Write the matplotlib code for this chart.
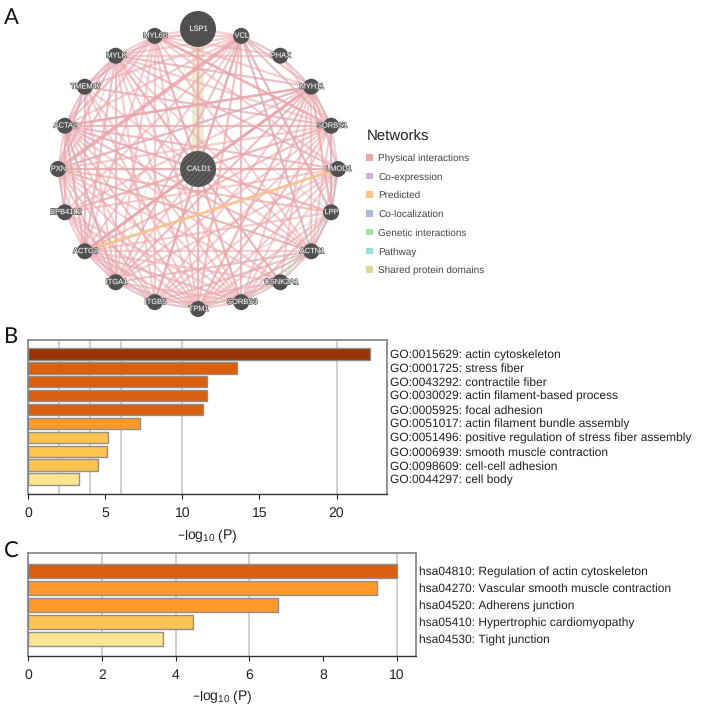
import numpy as np
import matplotlib
matplotlib.use('Agg')
import matplotlib.pyplot as plt
import matplotlib.patheffects as pe
from matplotlib.patches import Circle, Patch

plt.rcParams['font.family'] = ['Liberation Sans', 'DejaVu Sans']
plt.rcParams['mathtext.default'] = 'regular'
plt.rcParams['hatch.linewidth'] = 0.6
plt.rcParams['text.hinting'] = 'no_hinting'
plt.rcParams['text.hinting_factor'] = 1

W, H = 705, 708

# network, clockwise from the top
ring_genes = ['LSP1', 'VCL', 'PHAX', 'MYH11', 'SORBS1', 'LMOD1', 'LPP', 'ACTN1', 'CSNK2A1', 'SORBS3',
              'TPM1', 'ITGB5', 'ITGA1', 'ACTG2', 'EPB41L2', 'PXN', 'ACTA2', 'TMEM47', 'MYLK', 'MYL6B']
big_genes = ['LSP1', 'CALD1']

physical = {
    'VCL': 'MYL6B MYLK ACTA2 PXN ACTG2 ITGA1 ITGB5 TPM1 SORBS3 SORBS1 MYH11 ACTN1 CALD1 LSP1 PHAX LPP TMEM47 EPB41L2',
    'MYL6B': 'LSP1 MYLK ACTA2 PXN ACTG2 ITGB5 TPM1 SORBS3 SORBS1 MYH11 LMOD1 ITGA1 CALD1 TMEM47 ACTN1 PHAX',
    'MYLK': 'ACTA2 PXN ACTG2 ITGA1 TPM1 SORBS3 SORBS1 MYH11 LMOD1 ACTN1 CALD1 TMEM47 CSNK2A1 ITGB5 LSP1 PHAX',
    'ACTA2': 'PXN ACTG2 ITGA1 ITGB5 TPM1 SORBS3 SORBS1 MYH11 LMOD1 ACTN1 CALD1 EPB41L2 LPP TMEM47 CSNK2A1',
    'PXN': 'EPB41L2 ACTG2 ITGA1 ITGB5 TPM1 SORBS3 SORBS1 MYH11 LMOD1 CALD1 ACTN1 TMEM47 LPP CSNK2A1',
    'ACTG2': 'ITGA1 ITGB5 TPM1 SORBS3 SORBS1 MYH11 LMOD1 CALD1 ACTN1 EPB41L2 LPP CSNK2A1 TMEM47',
    'MYH11': 'SORBS1 LMOD1 TPM1 SORBS3 ITGB5 ITGA1 CALD1 PHAX ACTN1 CSNK2A1 EPB41L2 LPP',
    'SORBS1': 'LMOD1 LPP TPM1 SORBS3 ITGA1 ITGB5 ACTN1 CALD1 EPB41L2 PHAX TMEM47',
    'LMOD1': 'TPM1 SORBS3 ITGA1 CALD1 LPP ITGB5 ACTN1 EPB41L2',
    'TPM1': 'ITGB5 ITGA1 SORBS3 CALD1 ACTN1 CSNK2A1 LSP1 EPB41L2 LPP TMEM47',
    'SORBS3': 'ITGB5 ITGA1 CSNK2A1 ACTN1 CALD1 TMEM47 LPP EPB41L2',
    'ITGB5': 'ITGA1 CALD1 EPB41L2 ACTN1 CSNK2A1',
    'ITGA1': 'CALD1 EPB41L2 ACTN1 TMEM47',
    'CALD1': 'LSP1 ACTN1 LPP CSNK2A1 EPB41L2 TMEM47',
    'LPP': 'ACTN1',
    'ACTN1': 'CSNK2A1',
}
coexpression = {
    'MYH11': 'ACTA2 ACTG2 MYLK LMOD1 TPM1 LPP PXN SORBS1 ITGA1',
    'MYLK': 'ACTG2 LPP EPB41L2 PXN TMEM47 ITGA1 LMOD1',
    'ACTA2': 'TMEM47 LMOD1 SORBS1 ITGA1 EPB41L2 ACTN1',
    'LPP': 'ACTN1 SORBS3 ITGB5 VCL LMOD1 SORBS1',
    'ACTG2': 'TMEM47 ITGB5 ITGA1 SORBS3',
    'TMEM47': 'MYL6B SORBS1 PXN',
}
predicted = {
    'ACTG2': 'LMOD1 ACTA2 TPM1',
    'ACTA2': 'TPM1 SORBS1 MYL6B',
    'VCL': 'TPM1 MYH11',
    'MYH11': 'LPP TPM1 SORBS1',
    'PXN': 'LPP ACTN1',
    'SORBS1': 'ACTG2 TPM1',
    'MYLK': 'TMEM47',
}
colocalization = {
    'VCL': 'ACTN1 LPP ITGB5 SORBS3',
    'MYH11': 'ACTG2 PXN SORBS1',
    'LPP': 'ACTN1 SORBS1 LMOD1',
    'ACTA2': 'ITGA1 ACTG2 MYLK',
    'PXN': 'EPB41L2 TMEM47',
}
genetic = {
    'CSNK2A1': 'ACTN1 SORBS3 LPP CALD1 LMOD1 TPM1',
    'LSP1': 'ITGA1',
    'PXN': 'LMOD1 ACTN1',
    'LPP': 'LMOD1',
    'ACTN1': 'TPM1 SORBS3',
}
pathway = {
    'ACTN1': 'VCL ITGA1 ITGB5 PXN LPP TPM1 SORBS3',
    'PHAX': 'MYH11 VCL',
    'ITGA1': 'ITGB5 VCL PXN TPM1',
    'ITGB5': 'PXN VCL TPM1',
    'SORBS1': 'VCL LPP',
    'PXN': 'LMOD1 EPB41L2',
    'LPP': 'CSNK2A1',
}
# thicker links: (a, b, width)
thick_physical = [('VCL', 'PXN', 3.0), ('MYH11', 'ACTG2', 2.2), ('MYL6B', 'SORBS1', 1.8), ('ACTA2', 'MYH11', 1.8)]
thick_predicted = [('ACTG2', 'LMOD1', 2.2)]

network_names = ['Physical interactions', 'Co-expression', 'Predicted', 'Co-localization',
                 'Genetic interactions', 'Pathway', 'Shared protein domains']
network_colors = ['#EBA6AB', '#CDB6DA', '#F9C58C', '#A7B7E0', '#9FE09B', '#9EDCE0', '#DDD79E']

# GO enrichment
go_labels = ['GO:0015629: actin cytoskeleton', 'GO:0001725: stress fiber', 'GO:0043292: contractile fiber',
             'GO:0030029: actin filament-based process', 'GO:0005925: focal adhesion',
             'GO:0051017: actin filament bundle assembly', 'GO:0051496: positive regulation of stress fiber assembly',
             'GO:0006939: smooth muscle contraction', 'GO:0098609: cell-cell adhesion', 'GO:0044297: cell body']
go_values = [22.16, 13.57, 11.6, 11.58, 11.34, 7.26, 5.2, 5.1, 4.56, 3.29]
go_colors = ['#993404', '#D95F0E', '#D95F0E', '#D95F0E', '#D95F0E', '#FE9929', '#FEC44F', '#FEC44F', '#FEC44F', '#FEE391']
go_grid = [2, 4, 6, 10, 20]

# KEGG enrichment
kegg_labels = ['hsa04810: Regulation of actin cytoskeleton', 'hsa04270: Vascular smooth muscle contraction',
               'hsa04520: Adherens junction', 'hsa05410: Hypertrophic cardiomyopathy', 'hsa04530: Tight junction']
kegg_values = [10.0, 9.46, 6.78, 4.48, 3.66]
kegg_colors = ['#D95F0E', '#FE9929', '#FE9929', '#FEC44F', '#FEE391']
kegg_grid = [2, 4, 6, 10]


def px_axes(fig, left, top, right, bottom):
    return fig.add_axes([left / W, 1 - bottom / H, (right - left) / W, (bottom - top) / H])


def draw_network(ax):
    pos = {'CALD1': (0.0, 0.0)}
    for i, g in enumerate(ring_genes):
        a = np.pi / 2 - i * 2 * np.pi / len(ring_genes)
        pos[g] = (np.cos(a), np.sin(a))

    def link(a, b, color, lw, alpha=0.55):
        ax.plot([pos[a][0], pos[b][0]], [pos[a][1], pos[b][1]], color=color, lw=lw, alpha=alpha,
                solid_capstyle='butt', zorder=2)

    # the wide shared domain band
    link('LSP1', 'CALD1', network_colors[6], 8.5, 0.5)
    for table, color, lw, alpha in [(pathway, network_colors[5], 1.2, 0.4), (genetic, network_colors[4], 0.9, 0.4),
                                    (colocalization, network_colors[3], 1.3, 0.4),
                                    (coexpression, network_colors[1], 1.3, 0.4),
                                    (predicted, network_colors[2], 1.1, 0.45), (physical, network_colors[0], 1.6, 0.55)]:
        for a, others in table.items():
            for b in others.split():
                link(a, b, color, lw, alpha)
    for a, b, lw in thick_physical:
        link(a, b, network_colors[0], lw, 0.75)
    for a, b, lw in thick_predicted:
        link(a, b, network_colors[2], lw, 0.75)

    for g, (x, y) in pos.items():
        r = 18 / 140 if g in big_genes else 8 / 140
        ax.add_patch(Circle((x, y), r, fc='#505050', ec='none', zorder=3))
        if g == 'CALD1':
            ax.add_patch(Circle((x, y), r, fc='none', ec='#6e6e6e', hatch='//////', lw=0, zorder=3))
        ax.text(x, y, g, color='white', fontsize=5.4, ha='center', va='center', zorder=4,
                path_effects=[pe.withStroke(linewidth=1.0, foreground='#606060')])


def draw_bars(ax, labels, values, colors, grid, xmax, ylim, xticks, labelpad):
    y = np.arange(len(values))
    ax.vlines(grid, ylim[0], ylim[1], color='#cfcfcf', lw=1.4, zorder=1)
    ax.barh(y, values, height=0.82, color=colors, edgecolor='#8f8f8f', linewidth=1.0, zorder=2)
    ax.set_xlim(0, xmax)
    ax.set_ylim(ylim)
    ax.set_xticks(xticks)
    ax.yaxis.tick_right()
    ax.set_yticks(y)
    ax.set_yticklabels(labels, color='#222222')
    ax.tick_params(axis='y', length=0, pad=2, labelsize=8.68)
    ax.tick_params(axis='x', length=3.5, width=0.8, labelsize=9.8, pad=5.5, color='#222222', labelcolor='#222222')
    for s in ['top', 'right', 'left']:
        ax.spines[s].set_color('#808080')
        ax.spines[s].set_linewidth(1.2)
    ax.spines['bottom'].set_color('#333333')
    ax.spines['bottom'].set_linewidth(1.0)
    ax.set_xlabel('\u2013log$_{10}$ (P)', fontsize=9.9, color='#222222', labelpad=labelpad)


fig = plt.figure(figsize=(W / 100, H / 100), dpi=100)

ax_net = px_axes(fig, 29, 0, 367, 338)
ax_net.set_xlim(-169 / 140, 169 / 140)
ax_net.set_ylim(-169 / 140, 169 / 140)
ax_net.axis('off')
draw_network(ax_net)

handles = [Patch(fc=c, ec='none') for c in network_colors]
leg = fig.legend(handles, network_names, loc='upper left', bbox_to_anchor=(357 / W, 1 - 121 / H), frameon=False,
                 title='Networks', fontsize=7.5, title_fontsize=10.7, handlelength=0.6, handleheight=0.6,
                 handletextpad=0.55, labelspacing=0.9, alignment='left', labelcolor='#444444')
leg.get_title().set_color('#222222')

ax_go = px_axes(fig, 28, 340, 387, 494)
draw_bars(ax_go, go_labels, go_values, go_colors, go_grid, 23.27, (10.07, -1.0), [0, 5, 10, 15, 20], 6)

ax_kegg = px_axes(fig, 28, 553, 416, 656)
draw_bars(ax_kegg, kegg_labels, kegg_values, kegg_colors, kegg_grid, 10.52, (5.0, -1.06), [0, 2, 4, 6, 8, 10], 5)

for letter, py in [('A', 17.5), ('B', 336.5), ('C', 552)]:
    fig.text(4 / W, 1 - py / H, letter, fontsize=15.5, family='Lato', va='center', ha='left', color='#111111')

fig.savefig('out.png', dpi=100)
